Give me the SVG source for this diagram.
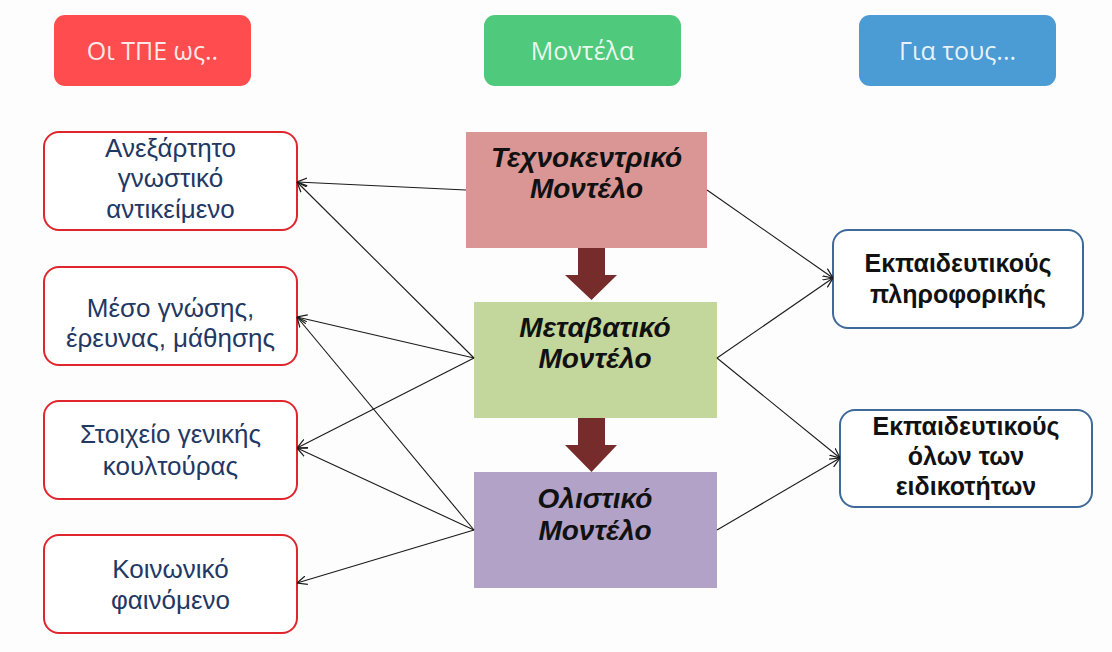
<svg xmlns="http://www.w3.org/2000/svg" width="1112" height="652" viewBox="0 0 1112 652">
  <defs>
    <marker id="open-arrow" viewBox="0 0 10 10" refX="10" refY="5" markerWidth="10" markerHeight="10" markerUnits="userSpaceOnUse" orient="auto">
      <path d="M0,0.5 L10,5 L0,9.5" fill="none" stroke="#1a1a1a" stroke-width="1.2"/>
    </marker>
    <style>
      .hdr { stroke: none; }
      .hdr-text { font-family: "Open Sans", "Liberation Sans", sans-serif; font-size: 25px; fill: #ffffff; fill-opacity: 0.88; text-anchor: middle; }
      .model-text { font-family: "Liberation Sans", "DejaVu Sans", sans-serif; font-size: 28px; font-weight: bold; font-style: italic; fill: #111111; text-anchor: middle; }
      .role { fill: #ffffff; stroke: #e0262c; stroke-width: 2; }
      .role-text { font-family: "Liberation Sans", "DejaVu Sans", sans-serif; font-size: 26px; fill: #1f3864; text-anchor: middle; }
      .aud { fill: #ffffff; stroke: #3e6a9a; stroke-width: 2; }
      .aud-text { font-family: "Liberation Sans", "DejaVu Sans", sans-serif; font-size: 25px; font-weight: bold; fill: #111111; text-anchor: middle; }
      .link { stroke: #1a1a1a; stroke-width: 1.1; fill: none; marker-end: url(#open-arrow); }
      .flow { fill: #772c2c; }
    </style>
  </defs>

  <rect width="1112" height="652" fill="#fdfdfd"/>

  <!-- column headers -->
  <g id="header-roles">
    <rect class="hdr" x="54" y="15" width="197" height="71" rx="11" fill="#ff4d4f"/>
    <text class="hdr-text" x="152.5" y="60">Οι ΤΠΕ ως..</text>
  </g>
  <g id="header-models">
    <rect class="hdr" x="484" y="15" width="197" height="71" rx="11" fill="#4fca7c"/>
    <text class="hdr-text" x="582.5" y="60">Μοντέλα</text>
  </g>
  <g id="header-audience">
    <rect class="hdr" x="859" y="15" width="197" height="71" rx="11" fill="#4b9bd5"/>
    <text class="hdr-text" x="957.5" y="60">Για τους...</text>
  </g>

  <!-- models -->
  <g id="model-techno">
    <rect x="466" y="132" width="241" height="116" fill="#d99694"/>
    <text class="model-text" x="586.5" y="167">Τεχνοκεντρικό</text>
    <text class="model-text" x="586.5" y="198">Μοντέλο</text>
  </g>
  <g id="model-transition">
    <rect x="474" y="302" width="243" height="116" fill="#c3d69b"/>
    <text class="model-text" x="595" y="337">Μεταβατικό</text>
    <text class="model-text" x="595" y="368">Μοντέλο</text>
  </g>
  <g id="model-holistic">
    <rect x="474" y="472" width="243" height="116" fill="#b2a2c7"/>
    <text class="model-text" x="595" y="508">Ολιστικό</text>
    <text class="model-text" x="595" y="540">Μοντέλο</text>
  </g>

  <!-- roles of ICT -->
  <g id="role-object">
    <rect class="role" x="44" y="132" width="253" height="98" rx="15"/>
    <text class="role-text" x="170.5" y="157">Ανεξάρτητο</text>
    <text class="role-text" x="170.5" y="187">γνωστικό</text>
    <text class="role-text" x="170.5" y="218">αντικείμενο</text>
  </g>
  <g id="role-tool">
    <rect class="role" x="44" y="267" width="253" height="98" rx="15"/>
    <text class="role-text" x="170.5" y="317">Μέσο γνώσης,</text>
    <text class="role-text" x="170.5" y="347">έρευνας, μάθησης</text>
  </g>
  <g id="role-culture">
    <rect class="role" x="44" y="401" width="253" height="98" rx="15"/>
    <text class="role-text" x="170.5" y="443">Στοιχείο γενικής</text>
    <text class="role-text" x="170.5" y="475">κουλτούρας</text>
  </g>
  <g id="role-social">
    <rect class="role" x="44" y="535" width="253" height="98" rx="15"/>
    <text class="role-text" x="170.5" y="578">Κοινωνικό</text>
    <text class="role-text" x="170.5" y="609">φαινόμενο</text>
  </g>

  <!-- audiences -->
  <g id="aud-informatics">
    <rect class="aud" x="833" y="230" width="250" height="98" rx="15"/>
    <text class="aud-text" x="958" y="272">Εκπαιδευτικούς</text>
    <text class="aud-text" x="958" y="303">πληροφορικής</text>
  </g>
  <g id="aud-all">
    <rect class="aud" x="840" y="410" width="252" height="97" rx="15"/>
    <text class="aud-text" x="966" y="435">Εκπαιδευτικούς</text>
    <text class="aud-text" x="966" y="465">όλων των</text>
    <text class="aud-text" x="966" y="495">ειδικοτήτων</text>
  </g>

  <!-- connectors -->
  <g id="connectors">
    <!-- progression between models -->
    <path class="flow" d="M578,248 H605 V275 H617 L591.5,300 L565,275 H578 Z"/>
    <path class="flow" d="M578,418 H605 V445 H617 L591.5,472 L565,445 H578 Z"/>

    <!-- models to roles -->
    <line class="link" x1="466" y1="190" x2="297" y2="182"/>
    <line class="link" x1="474" y1="358" x2="297" y2="182"/>
    <line class="link" x1="474" y1="358" x2="297" y2="317"/>
    <line class="link" x1="474" y1="358" x2="297" y2="448"/>
    <line class="link" x1="474" y1="530" x2="297" y2="317"/>
    <line class="link" x1="474" y1="530" x2="297" y2="448"/>
    <line class="link" x1="474" y1="530" x2="297" y2="583"/>

    <!-- models to audiences -->
    <line class="link" x1="707" y1="190" x2="833" y2="278"/>
    <line class="link" x1="717" y1="358" x2="833" y2="278"/>
    <line class="link" x1="717" y1="358" x2="840" y2="458"/>
    <line class="link" x1="717" y1="530" x2="840" y2="458"/>
  </g>
</svg>
